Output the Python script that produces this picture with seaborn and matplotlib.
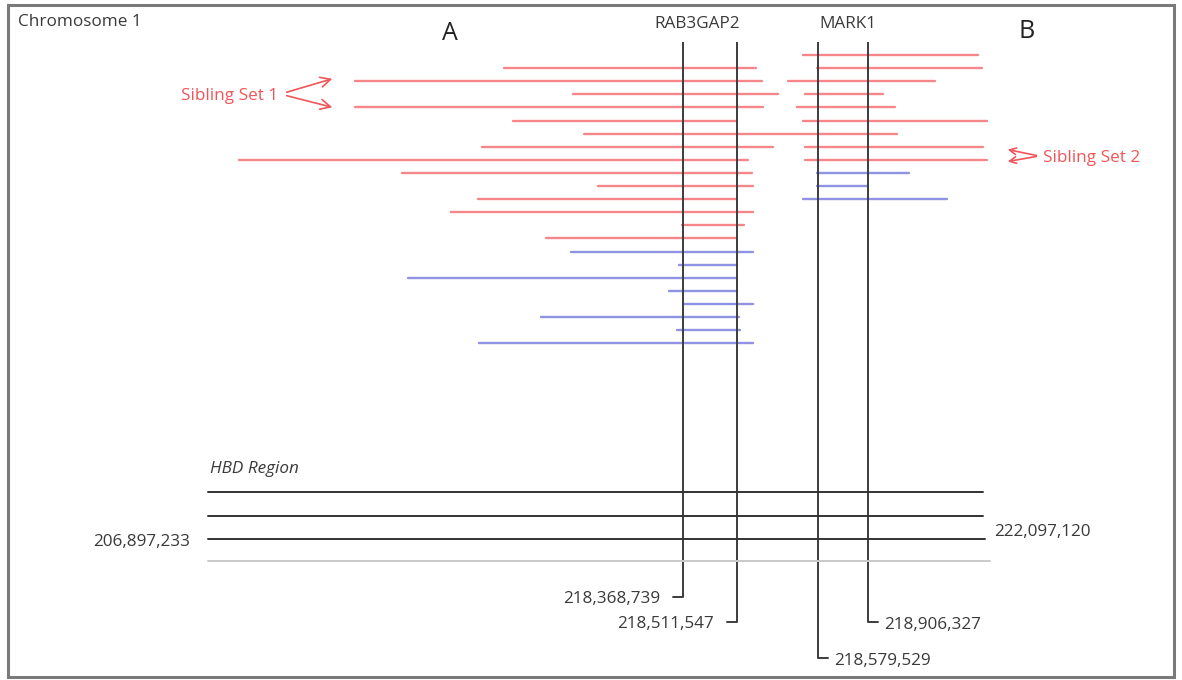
import matplotlib
matplotlib.use("Agg")
import matplotlib.pyplot as plt
import seaborn as sns
import pandas as pd

# Shared segments along chromosome 1 (schematic position units); one entry per segment
red_row   = [0,   1,   1,   2,   2,   3,   3,   4,   4,   5,   5,   6,   7,   7,   8,   8,   9,   10,  11,  12,  13,  14]
red_start = [803, 504, 817, 355, 788, 573, 805, 355, 797, 513, 803, 584, 482, 805, 239, 805, 402, 598, 478, 451, 682, 546]
red_end   = [978, 756, 982, 762, 935, 778, 883, 763, 895, 737, 987, 897, 773, 983, 748, 987, 752, 753, 737, 753, 744, 737]

blue_row   = [9,   10,  11,  15,  16,  17,  18,  19,  20,  21,  22]
blue_start = [817, 817, 803, 571, 679, 408, 669, 683, 541, 677, 479]
blue_end   = [909, 868, 947, 753, 737, 737, 737, 753, 739, 740, 753]

# Candidate genes and their boundary coordinates
gene_names = ["RAB3GAP2", "MARK1"]
gene_x = [683, 737, 818, 868]
gene_labels = ["218,368,739", "218,511,547", "218,579,529", "218,906,327"]

# HBD region bounds
hbd_left_label = "206,897,233"
hbd_right_label = "222,097,120"

sns.set_theme(style="white")
plt.rcParams["font.family"] = ["Open Sans", "DejaVu Sans"]

W, H = 1182, 680
fig = plt.figure(figsize=(W / 100, H / 100), dpi=100)
ax = fig.add_axes([0, 0, 1, 1])

row_top, row_step = 55, 13.1

rows = []
for i, (r, s, e) in enumerate(zip(red_row, red_start, red_end)):
    y = row_top + r * row_step
    rows += [{"seg": f"r{i}", "group": "sib", "x": s, "y": y},
             {"seg": f"r{i}", "group": "sib", "x": e, "y": y}]
for i, (r, s, e) in enumerate(zip(blue_row, blue_start, blue_end)):
    y = row_top + r * row_step
    rows += [{"seg": f"b{i}", "group": "other", "x": s, "y": y},
             {"seg": f"b{i}", "group": "other", "x": e, "y": y}]
df = pd.DataFrame(rows)

sns.lineplot(data=df, x="x", y="y", units="seg", hue="group", estimator=None,
             sort=False, palette={"sib": "#f5868a", "other": "#9093e2"},
             linewidth=1.7, legend=False, ax=ax)
ax.set_xlim(0, W)
ax.set_ylim(H, 0)
ax.axis("off")

# Outer frame
ax.add_patch(plt.Rectangle((8, 5), 1166, 672, fill=False, edgecolor="#7a7a7a", lw=2.2))

fs = 12.3
dy = 2  # baseline nudge so text sits centred on its line
txt = "#3a3a3a"
ax.text(18, 20 + dy, "Chromosome 1", fontsize=fs, color=txt, va="center", ha="left")
ax.text(450, 34, "A", fontsize=18, color="#222222", va="center", ha="center")
ax.text(1027, 31, "B", fontsize=18, color="#222222", va="center", ha="center")
ax.text(697, 22 + dy, gene_names[0], fontsize=fs, color=txt, va="center", ha="center")
ax.text(848, 22 + dy, gene_names[1], fontsize=fs, color=txt, va="center", ha="center")

# Gene boundary markers
gene_bottom = [597, 622, 658, 622]
tick_dir = [-1, -1, 1, 1]
for gx, gb, d, lab in zip(gene_x, gene_bottom, tick_dir, gene_labels):
    ax.plot([gx, gx], [42, gb], color="#3c3c3c", lw=1.4, solid_capstyle="butt")
    ax.plot([gx, gx + d * 10], [gb, gb], color="#3c3c3c", lw=1.4)
    if d < 0:
        ax.text(gx - 23, gb + dy, lab, fontsize=fs, color=txt, va="center", ha="right")
    else:
        ax.text(gx + 16, gb + 1 + dy, lab, fontsize=fs, color=txt, va="center", ha="left")

# HBD region lines
ax.text(210, 467 + dy, "HBD Region", fontsize=fs, color=txt, style="italic", va="center", ha="left")
hbd_y = [492, 516, 539, 561]
hbd_end = [983, 983, 985, 990]
hbd_col = ["#333333", "#333333", "#333333", "#c9c9c9"]
for y, xe, c in zip(hbd_y, hbd_end, hbd_col):
    ax.plot([208, xe], [y, y], color=c, lw=1.4)
ax.text(190, 540 + dy, hbd_left_label, fontsize=fs, color=txt, va="center", ha="right")
ax.text(994, 530 + dy, hbd_right_label, fontsize=fs, color=txt, va="center", ha="left")

# Sibling set annotations
red = "#f0555a"
ax.text(278, 94 + dy, "Sibling Set 1", fontsize=fs, color=red, va="center", ha="right")
for ty in (78, 108):
    ax.annotate("", xy=(335, ty), xytext=(284, 93 if ty < 93 else 95),
                arrowprops=dict(arrowstyle="->,head_length=0.6,head_width=0.3", color=red, lw=1.2))
ax.text(1043, 156 + dy, "Sibling Set 2", fontsize=fs, color=red, va="center", ha="left")
for ty in (149, 162):
    ax.annotate("", xy=(1005, ty), xytext=(1039, 156),
                arrowprops=dict(arrowstyle="->", color=red, lw=1.2))

fig.savefig("out.png", dpi=100)
